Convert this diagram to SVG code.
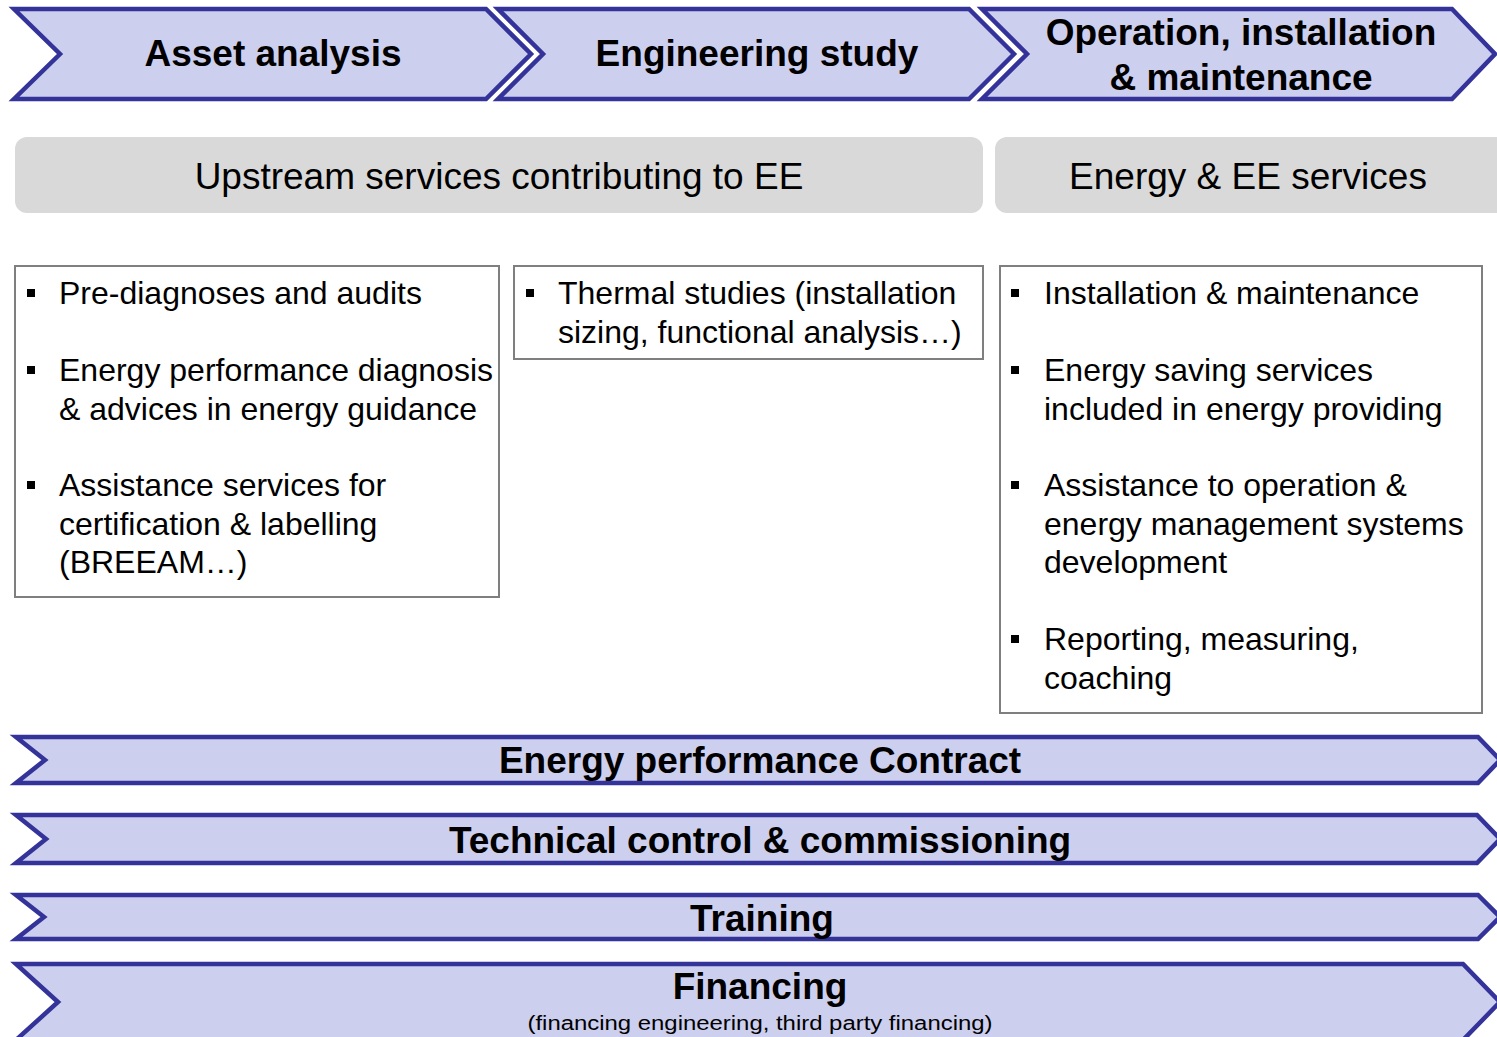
<svg xmlns="http://www.w3.org/2000/svg" width="1497" height="1037" viewBox="0 0 1497 1037">
<style>
.chev{fill:#cdcfee;stroke:#333399;stroke-width:4.5;stroke-linejoin:miter}
.hdr{fill:#d9d9d9}
.box{fill:#ffffff;stroke:#7f7f7f;stroke-width:2}
.bt{font-family:"Liberation Sans",Arial,sans-serif;font-weight:bold;font-size:37px;fill:#000;text-anchor:middle}
.ht{font-family:"Liberation Sans",Arial,sans-serif;font-size:37px;fill:#000;text-anchor:middle}
.tx{font-family:"Liberation Sans",Arial,sans-serif;font-size:32px;fill:#000}
.sub{font-family:"Liberation Sans",Arial,sans-serif;font-size:20px;fill:#000;text-anchor:middle}
.bul{fill:#000}
</style>
<rect width="1497" height="1037" fill="#ffffff"/>
<g id="asset-analysis">
<polygon class="chev" points="14,9 486,9 531,54 486,99 14,99 60,54"/>
<text class="bt" x="273" y="66">Asset analysis</text>
</g>
<g id="engineering-study">
<polygon class="chev" points="498,9 969,9 1014,54 969,99 498,99 543,54"/>
<text class="bt" x="757" y="66">Engineering study</text>
</g>
<g id="operation">
<polygon class="chev" points="982,9 1452,9 1495,54 1452,99 982,99 1027,54"/>
<text class="bt" x="1241" y="45">Operation, installation</text>
<text class="bt" x="1241" y="90">&amp; maintenance</text>
</g>
<g id="upstream-header">
<rect class="hdr" x="15" y="137" width="968" height="76" rx="12"/>
<text class="ht" x="499" y="189">Upstream services contributing to EE</text>
</g>
<g id="energy-header">
<rect class="hdr" x="995" y="137" width="520" height="76" rx="12"/>
<text class="ht" x="1248" y="189">Energy &amp; EE services</text>
</g>
<g id="box-upstream">
<rect class="box" x="15" y="266" width="484" height="331"/>
<rect class="bul" x="27" y="289" width="8" height="8"/>
<rect class="bul" x="27" y="366" width="8" height="8"/>
<rect class="bul" x="27" y="481" width="8" height="8"/>
<text class="tx" x="59" y="304">Pre-diagnoses and audits</text>
<text class="tx" x="59" y="381">Energy performance diagnosis</text>
<text class="tx" x="59" y="419.5">&amp; advices in energy guidance</text>
<text class="tx" x="59" y="496">Assistance services for</text>
<text class="tx" x="59" y="534.5">certification &amp; labelling</text>
<text class="tx" x="59" y="573">(BREEAM…)</text>
</g>
<g id="box-engineering">
<rect class="box" x="514" y="266" width="469" height="93"/>
<rect class="bul" x="526" y="289" width="8" height="8"/>
<text class="tx" x="558" y="304">Thermal studies (installation</text>
<text class="tx" x="558" y="342.5">sizing, functional analysis…)</text>
</g>
<g id="box-energy">
<rect class="box" x="1000" y="266" width="482" height="447"/>
<rect class="bul" x="1011" y="289" width="8" height="8"/>
<rect class="bul" x="1011" y="366" width="8" height="8"/>
<rect class="bul" x="1011" y="481" width="8" height="8"/>
<rect class="bul" x="1011" y="635" width="8" height="8"/>
<text class="tx" x="1044" y="304">Installation &amp; maintenance</text>
<text class="tx" x="1044" y="381">Energy saving services</text>
<text class="tx" x="1044" y="419.5">included in energy providing</text>
<text class="tx" x="1044" y="496">Assistance to operation &amp;</text>
<text class="tx" x="1044" y="534.5">energy management systems</text>
<text class="tx" x="1044" y="573">development</text>
<text class="tx" x="1044" y="650">Reporting, measuring,</text>
<text class="tx" x="1044" y="688.5">coaching</text>
</g>
<g id="epc">
<polygon class="chev" points="16,737 1478,737 1500,760 1478,783 16,783 45,760"/>
<text class="bt" x="760" y="773">Energy performance Contract</text>
</g>
<g id="technical-control">
<polygon class="chev" points="16,815 1477,815 1500,839 1477,863 16,863 46,839"/>
<text class="bt" x="760" y="853">Technical control &amp; commissioning</text>
</g>
<g id="training">
<polygon class="chev" points="16,895 1478,895 1500,917 1478,939 16,939 44,917"/>
<text class="bt" x="762" y="931">Training</text>
</g>
<g id="financing">
<polygon class="chev" points="16,964 1463,964 1500,1002 1463,1040 16,1040 58,1002"/>
<text class="bt" x="760" y="999">Financing</text>
<text class="sub" x="760" y="1030" textLength="465" lengthAdjust="spacingAndGlyphs">(financing engineering, third party financing)</text>
</g>
<g id="connectors"/>
</svg>
